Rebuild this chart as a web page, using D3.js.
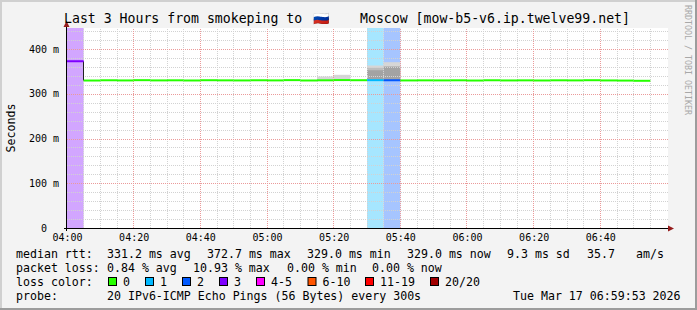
<!DOCTYPE html>
<html>
<head>
<meta charset="utf-8">
<script src="https://cdn.jsdelivr.net/npm/d3@7"></script>
<style>
    html, body { margin: 0; padding: 0; background: #f3f3f3; }
    svg { display: block; }
    text { font-family: "DejaVu Sans Mono", monospace; white-space: pre; }
</style>
</head>
<body>
<svg id="chart" width="697" height="310"></svg>
<script>
"use strict";

// 5 minute slots (probe step 300s)
var slotTimes = ["04:00", "04:05", "04:10", "04:15", "04:20", "04:25", "04:30", "04:35", "04:40",
    "04:45", "04:50", "04:55", "05:00", "05:05", "05:10", "05:15", "05:20", "05:25", "05:30",
    "05:35", "05:40", "05:45", "05:50", "05:55", "06:00", "06:05", "06:10", "06:15", "06:20",
    "06:25", "06:30", "06:35", "06:40", "06:45", "06:50"];

// median rtt in ms
var medianRtt = [372.7, 329.6, 330.2, 329.8, 330.4, 329.9, 330.1, 329.7, 330.3, 330.0, 329.8,
    330.2, 329.9, 330.5, 329.7, 330.1, 330.6, 330.3, 330.4, 330.2, 329.8, 330.0, 329.9, 330.1,
    329.6, 330.2, 329.8, 330.0, 329.7, 330.1, 329.9, 330.3, 329.8, 329.5, 329.0];

// lost pings out of 20
var lossCount = [3, 0, 0, 0, 0, 0, 0, 0, 0, 0, 0, 0, 0, 0, 0, 0, 0, 0, 1, 2, 0, 0, 0, 0, 0,
    0, 0, 0, 0, 0, 0, 0, 0, 0, 0];

// smoke (ping spread) where it shows above the median
var smokeTimes = ["05:15", "05:20", "05:30", "05:35"];
var smokeBase = [329.0, 329.0, 328.6, 328.6];
var smokeOuter = [338.6, 342.4, 363.2, 370.6];
var smokeMiddle = [null, null, 358.0, null];
var smokeInner = [null, null, 352.6, 361.0];

var xTickLabels = ["04:00", "04:20", "04:40", "05:00", "05:20", "05:40", "06:00", "06:20", "06:40"];
var yTickValues = [0, 100, 200, 300, 400];

var lossLabels = ["0", "1", "2", "3", "4-5", "6-10", "11-19", "20/20"];
var lossColors = ["#26ff00", "#00b8ff", "#0059ff", "#7e00ff", "#ff00ff", "#ff5500", "#ff0000", "#a10000"];

var statsRtt = ["331.2 ms avg", "372.7 ms max", "329.0 ms min", "329.0 ms now", "9.3 ms sd", "35.7", "am/s"];
var statsLoss = ["0.84 % avg", "10.93 % max", "0.00 % min", "0.00 % now"];
var probeText = "20 IPv6-ICMP Echo Pings (56 Bytes) every 300s";
var stampText = "Tue Mar 17 06:59:53 2026";

var parseTime = d3.timeParse("%H:%M");

function lossBucket(n) {
    if (n <= 3) return n;
    if (n <= 5) return 4;
    if (n <= 10) return 5;
    if (n <= 19) return 6;
    return 7;
}

var svg = d3.select("#chart");
var W = 697, H = 310;

// frame
svg.append("rect").attr("width", W).attr("height", H).attr("fill", "#f3f3f3");
svg.append("rect").attr("x", 0).attr("y", 0).attr("width", W).attr("height", 2).attr("fill", "#d0d0d0");
svg.append("rect").attr("x", 0).attr("y", 0).attr("width", 2).attr("height", H).attr("fill", "#d0d0d0");
svg.append("rect").attr("x", 0).attr("y", H - 2).attr("width", W).attr("height", 2).attr("fill", "#9c9c9c");
svg.append("rect").attr("x", W - 2).attr("y", 0).attr("width", 2).attr("height", H).attr("fill", "#9c9c9c");

// scales
var x = d3.scaleTime()
    .domain([parseTime("04:00"), parseTime("07:00")])
    .range([67, 667]);

var y = d3.scaleLinear()
    .domain([0, 447])
    .range([228, 28]);

var slots = slotTimes.map((t, i) => ({
    t0: parseTime(t),
    t1: d3.timeMinute.offset(parseTime(t), 5),
    median: medianRtt[i],
    loss: lossCount[i]
}));

// canvas
svg.append("rect")
    .attr("x", x.range()[0]).attr("y", y.range()[1])
    .attr("width", x.range()[1] - x.range()[0] + 1)
    .attr("height", y.range()[0] - y.range()[1])
    .attr("fill", "#ffffff");

// loss background bands
svg.append("g").selectAll("rect")
    .data(slots.filter(d => d.loss > 0))
    .join("rect")
    .attr("x", d => x(d.t0))
    .attr("y", y.range()[1])
    .attr("width", d => x(d.t1) - x(d.t0))
    .attr("height", y.range()[0] - y.range()[1])
    .attr("fill", d => d3.interpolateRgb("#ffffff", lossColors[lossBucket(d.loss)])(0.35));

// smoke
var smokeShades = ["#d6d6d6", "#bdbdbd", "#a3a3a3"];
var smokeLayers = [smokeOuter, smokeMiddle, smokeInner];
var smokeG = svg.append("g");
smokeLayers.forEach((layer, k) => {
    smokeG.append("g").selectAll("rect")
        .data(smokeTimes.map((t, i) => ({ t0: parseTime(t), lo: smokeBase[i], hi: layer[i] })).filter(d => d.hi != null))
        .join("rect")
        .attr("x", d => x(d.t0))
        .attr("width", d => x(d3.timeMinute.offset(d.t0, 5)) - x(d.t0))
        .attr("y", d => y(d.hi))
        .attr("height", d => y(d.lo) - y(d.hi))
        .attr("fill", smokeShades[k]);
});

// grid
var gridG = svg.append("g").attr("shape-rendering", "crispEdges");
var minorX = x.ticks(d3.timeMinute.every(5)).filter(d => d > x.domain()[0] && d < x.domain()[1] && d.getMinutes() % 20 !== 0);
var majorX = x.ticks(d3.timeMinute.every(20)).filter(d => d > x.domain()[0] && d < x.domain()[1]);
var minorY = d3.range(20, 447, 20).filter(v => v % 100 !== 0);
var majorY = yTickValues.filter(v => v > 0);

gridG.selectAll(".minor-x").data(minorX).join("line")
    .attr("x1", d => Math.floor(x(d)) + 0.5).attr("x2", d => Math.floor(x(d)) + 0.5)
    .attr("y1", 228).attr("y2", 28)
    .attr("stroke", "#d2d2d2").attr("stroke-dasharray", "1,1");
gridG.selectAll(".minor-y").data(minorY).join("line")
    .attr("x1", 67).attr("x2", 668)
    .attr("y1", d => Math.round(y(d)) + 0.5).attr("y2", d => Math.round(y(d)) + 0.5)
    .attr("stroke", "#d2d2d2").attr("stroke-dasharray", "1,1");
gridG.selectAll(".major-x").data(majorX).join("line")
    .attr("x1", d => Math.floor(x(d)) + 0.5).attr("x2", d => Math.floor(x(d)) + 0.5)
    .attr("y1", 228).attr("y2", 28)
    .attr("stroke", "#eb9a9a").attr("stroke-dasharray", "1,1");
gridG.selectAll(".major-y").data(majorY).join("line")
    .attr("x1", 67).attr("x2", 668)
    .attr("y1", d => Math.round(y(d)) + 0.5).attr("y2", d => Math.round(y(d)) + 0.5)
    .attr("stroke", "#eb9a9a").attr("stroke-dasharray", "1,1");

// median steps between slots
var stepG = svg.append("g");
slots.forEach((d, i) => {
    if (i === 0) return;
    var prev = slots[i - 1];
    if (Math.abs(y(prev.median) - y(d.median)) > 2) {
        stepG.append("line")
            .attr("x1", Math.floor(x(d.t0)) + 0.5).attr("x2", Math.floor(x(d.t0)) + 0.5)
            .attr("y1", y(prev.median)).attr("y2", y(d.median))
            .attr("stroke", "#222").attr("stroke-width", 1);
    }
});

// median line coloured by loss
svg.append("g").selectAll("line")
    .data(slots)
    .join("line")
    .attr("x1", d => x(d.t0))
    .attr("x2", d => x(d.t1))
    .attr("y1", d => y(d.median))
    .attr("y2", d => y(d.median))
    .attr("stroke", d => lossColors[lossBucket(d.loss)])
    .attr("stroke-width", 2);

// axes
var xAxis = svg.append("g")
    .attr("transform", "translate(0,228)")
    .call(d3.axisBottom(x)
        .tickValues(xTickLabels.map(parseTime))
        .tickFormat(d3.timeFormat("%H:%M"))
        .tickSize(0)
        .tickPadding(6));
xAxis.select(".domain").remove();
xAxis.selectAll("text")
    .attr("font-family", "DejaVu Sans Mono")
    .attr("font-size", "10px")
    .attr("fill", "#000");

var yAxis = svg.append("g")
    .attr("transform", "translate(67,0)")
    .call(d3.axisLeft(y)
        .tickValues(yTickValues)
        .tickFormat(v => v === 0 ? "0  " : v + " m")
        .tickSize(0)
        .tickPadding(8));
yAxis.select(".domain").remove();
yAxis.selectAll("text")
    .attr("font-family", "DejaVu Sans Mono")
    .attr("font-size", "10px")
    .attr("fill", "#000");

// axis lines + arrows
svg.append("line").attr("x1", 64).attr("x2", 670).attr("y1", 228.5).attr("y2", 228.5)
    .attr("stroke", "#000").attr("stroke-width", 1);
svg.append("line").attr("x1", 66.5).attr("x2", 66.5).attr("y1", 231).attr("y2", 25)
    .attr("stroke", "#000").attr("stroke-width", 1);
svg.append("path").attr("d", "M668,225.5 L674,228.5 L668,231.5 Z").attr("fill", "#951c1c");
svg.append("path").attr("d", "M63.5,27 L66.5,21 L69.5,27 Z").attr("fill", "#951c1c");

// title
var title = svg.append("text")
    .attr("y", 22.5)
    .attr("font-size", "13.2px")
    .attr("fill", "#000");
title.append("tspan").attr("x", 64).text("Last 3 Hours from smokeping to");
title.append("tspan").attr("x", 313).text("\u{1F1F7}\u{1F1FA}");
title.append("tspan").attr("x", 360).text("Moscow [mow-b5-v6.ip.twelve99.net]");

// y label
svg.append("text")
    .attr("transform", "translate(15,128) rotate(-90)")
    .attr("text-anchor", "middle")
    .attr("font-size", "11.6px")
    .attr("fill", "#000")
    .text("Seconds");

// watermark
svg.append("text")
    .attr("transform", "translate(685,60) rotate(90)")
    .attr("text-anchor", "middle")
    .attr("font-size", "8.3px")
    .attr("fill", "#a8a8a8")
    .text("RRDTOOL / TOBI OETIKER");

// legend
var legend = svg.append("g").attr("font-size", "11.6px").attr("fill", "#000");
var rowY = [258, 272, 286, 300];

legend.append("text").attr("x", 16).attr("y", rowY[0]).text("median rtt:");
var rttX = [107, 207, 307, 407, 507, 587, 636];
legend.selectAll(".rtt").data(statsRtt).join("text")
    .attr("x", (d, i) => rttX[i]).attr("y", rowY[0]).text(d => d);

legend.append("text").attr("x", 16).attr("y", rowY[1]).text("packet loss:");
var lossX = [107, 193, 287, 372];
legend.selectAll(".loss").data(statsLoss).join("text")
    .attr("x", (d, i) => lossX[i]).attr("y", rowY[1]).text(d => d);

legend.append("text").attr("x", 16).attr("y", rowY[2]).text("loss color:");
var swatchX = [108, 145, 182, 219, 256, 307.5, 365, 430];
var sw = legend.selectAll(".sw").data(lossLabels).join("g");
sw.append("rect")
    .attr("x", (d, i) => swatchX[i] + 0.5).attr("y", rowY[2] - 8.5)
    .attr("width", 8).attr("height", 8)
    .attr("fill", (d, i) => lossColors[i])
    .attr("stroke", "#000").attr("stroke-width", 1);
sw.append("text")
    .attr("x", (d, i) => swatchX[i] + 15).attr("y", rowY[2]).text(d => d);

legend.append("text").attr("x", 16).attr("y", rowY[3]).text("probe:");
legend.append("text").attr("x", 107).attr("y", rowY[3]).text(probeText);
legend.append("text").attr("x", 513).attr("y", rowY[3]).text(stampText);
</script>
</body>
</html>
